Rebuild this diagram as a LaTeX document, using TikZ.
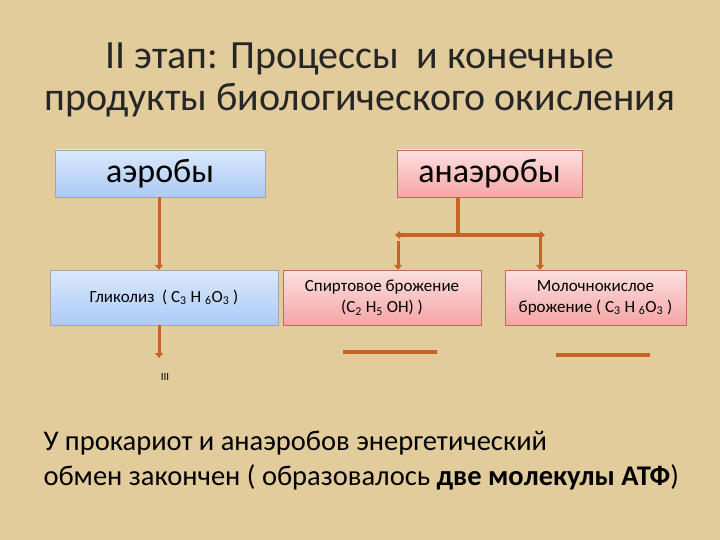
\documentclass[tikz,border=0pt]{standalone}
\usepackage{fontspec}
\setmainfont{Carlito}
\definecolor{bg}{RGB}{226,204,156}
\definecolor{arr}{RGB}{200,98,40}
\definecolor{blueA}{RGB}{218,232,252}
\definecolor{blueB}{RGB}{172,202,245}
\definecolor{redA}{RGB}{252,224,224}
\definecolor{redB}{RGB}{245,165,165}
\usetikzlibrary{arrows.meta}
\newcommand{\sbs}[1]{\textsubscript{#1}}
\begin{document}
\begin{tikzpicture}[x=1pt,y=-1pt,
 bbox/.style={draw=gray!70,top color=blueA,bottom color=blueB,inner sep=0pt},
 rbox/.style={draw=red!60!black!60,top color=redA,bottom color=redB,inner sep=0pt},
 con/.style={draw=arr,line width=3pt,-{Triangle[length=5pt,width=8pt]}},
 bar/.style={draw=arr,line width=3.5pt}]
\fill[bg] (0,0) rectangle (720,540);
\useasboundingbox (0,0) rectangle (720,540);
\node (t) at (360,80) [align=center,font=\fontsize{40}{42}\selectfont,text=black!85] {II этап: Процессы\ \ и конечные\\продукты биологического окисления};
\node (a) [bbox,minimum width=210pt,minimum height=47pt,font=\fontsize{34}{34}\selectfont] at (160,173.5) {аэробы};
\node (an) [rbox,minimum width=185pt,minimum height=47pt,font=\fontsize{34}{34}\selectfont] at (489.5,173.5) {анаэробы};
\node (g) [bbox,minimum width=228pt,minimum height=55pt,font=\fontsize{17}{20}\selectfont] at (164,297.5) {Гликолиз\ \ ( C\sbs{3} H \sbs{6}O\sbs{3} )};
\node (s) [rbox,minimum width=198pt,minimum height=55pt,align=center,font=\fontsize{17}{21}\selectfont] at (382,297.5) {Спиртовое брожение\\(C\sbs{2} H\sbs{5} OH) )};
\node (m) [rbox,minimum width=181pt,minimum height=55pt,align=center,font=\fontsize{17}{21}\selectfont] at (595.5,297.5) {Молочнокислое\\брожение ( C\sbs{3} H \sbs{6}O\sbs{3} )};
\coordinate (ge) at (159,358);
\node (iii) at (165,377) [font=\fontsize{11}{12}\selectfont] {III};
\draw[con] (a.south -| 159,0) -- (g.north -| 159,0);
\draw[con] (g.south -| 159,0) -- (ge);
\coordinate (j) at (458,235);
\coordinate (l) at (395,235);
\coordinate (r) at (545,235);
\draw[bar] (an.south -| j) -- (j);
\draw[con,line width=3.5pt] (j) -- (l);
\draw[con,line width=3.5pt] (j) -- (r);
\draw[con] (398,241) -- (s.north -| 398,0);
\draw[con] (540,235) -- (m.north -| 540,0);
\coordinate (b1) at (343,352); \coordinate (b2) at (437,352);
\coordinate (c1) at (556,355); \coordinate (c2) at (650,355);
\draw[bar] (b1) -- (b2);
\draw[bar] (c1) -- (c2);
\node (bt) [anchor=west,align=left,font=\fontsize{28.5}{35}\selectfont] at (40,461) {У прокариот и анаэробов энергетический\\обмен закончен ( образовалось \textbf{две молекулы АТФ})};
\end{tikzpicture}
\end{document}
